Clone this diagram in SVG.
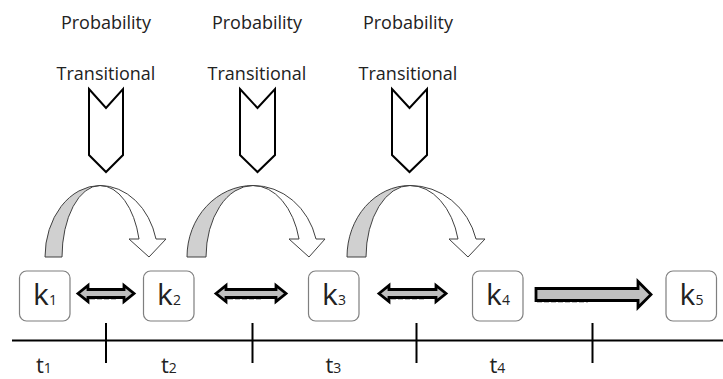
<svg xmlns="http://www.w3.org/2000/svg" width="723" height="379" viewBox="0 0 723 379">
<style>
.lbl{font-family:"Open Sans","Liberation Sans",sans-serif;font-size:18px;fill:#222;text-anchor:middle}
.box{fill:#fff;stroke:#7f7f7f;stroke-width:1.2}
.kt{font-family:"Open Sans","Liberation Sans",sans-serif;font-size:30px;fill:#222;text-anchor:middle}
.tt{font-family:"Open Sans","Liberation Sans",sans-serif;font-size:22px;fill:#222}
.sub{font-size:14px}
.chev{fill:#fff;stroke:#000;stroke-width:2;stroke-linejoin:miter}
.cband{fill:#d0d0d0;stroke:#404040;stroke-width:1}
.cwhite{fill:#fff;stroke:#404040;stroke-width:1}
.blk{fill:#bfbfbf;stroke:#000;stroke-width:2.8;stroke-linejoin:miter}
.dash{fill:none;stroke:#000;stroke-width:1.5;stroke-dasharray:5 2}
.axis{stroke:#000;stroke-width:2;fill:none}
</style>

<g id="labels">
<text class="lbl" x="106" y="29">Probability</text>
<text class="lbl" x="106" y="80">Transitional</text>
<text class="lbl" x="257" y="29">Probability</text>
<text class="lbl" x="257" y="80">Transitional</text>
<text class="lbl" x="408" y="29">Probability</text>
<text class="lbl" x="408" y="80">Transitional</text>
</g>

<g id="chevrons">
<path class="chev" d="M89,89 L106,108 L123,89 L123,155 L106,172 L89,155 Z"/>
<path class="chev" d="M240,89 L257.5,108 L275,89 L275,155 L257.5,172 L240,155 Z"/>
<path class="chev" d="M392,89 L409.5,108 L427,89 L427,155 L409.5,172 L392,155 Z"/>
</g>

<g id="curved-arrows">
<path class="cband" d="M45,257 A55,71.5 0 0 1 100,185.5 A38,71.5 0 0 0 62,257 Z"/>
<path class="cwhite" d="M100,185.5 A57.9,71.5 0 0 1 156,239 L166,239 L149,257 L129,239 L139,239 A40.3,71.5 0 0 0 100,185.5 Z"/>
<path class="cband" d="M187,257 A66,71.5 0 0 1 253,185.5 A47,71.5 0 0 0 206,257 Z"/>
<path class="cwhite" d="M253,185.5 A65,71.5 0 0 1 316,239 L325,239 L309,257 L289,239 L299,239 A47.5,71.5 0 0 0 253,185.5 Z"/>
<path class="cband" d="M347,257 A63,71.5 0 0 1 410,185.5 A44,71.5 0 0 0 366,257 Z"/>
<path class="cwhite" d="M410,185.5 A68,71.5 0 0 1 476,239 L485,239 L468,257 L449,239 L458,239 A49.6,71.5 0 0 0 410,185.5 Z"/>
</g>

<g id="k1"><rect class="box" x="19.5" y="271" width="50.5" height="50" rx="7"/><text class="kt" x="45" y="305">k<tspan class="sub">1</tspan></text></g>
<g id="k2"><rect class="box" x="143.5" y="271" width="50.5" height="50" rx="7"/><text class="kt" x="169" y="305">k<tspan class="sub">2</tspan></text></g>
<g id="k3"><rect class="box" x="308.5" y="271" width="50.5" height="50" rx="7"/><text class="kt" x="334" y="305">k<tspan class="sub">3</tspan></text></g>
<g id="k4"><rect class="box" x="472.5" y="271" width="50.5" height="50" rx="7"/><text class="kt" x="498" y="305">k<tspan class="sub">4</tspan></text></g>
<g id="k5"><rect class="box" x="666" y="271" width="50.5" height="50" rx="7"/><text class="kt" x="691.5" y="305">k<tspan class="sub">5</tspan></text></g>

<g id="connectors">
<path class="blk" d="M78,293.5 L88,285.5 L88,289.5 L124,289.5 L124,285.5 L134,293.5 L124,301.5 L124,297.5 L88,297.5 L88,301.5 Z"/>
<path class="dash" d="M90,298.5 L118,298.5"/>
<path class="blk" d="M216,293.5 L226,285.5 L226,289.5 L276,289.5 L276,285.5 L286,293.5 L276,301.5 L276,297.5 L226,297.5 L226,301.5 Z"/>
<path class="dash" d="M228,298.5 L262,298.5"/>
<path class="blk" d="M379,293.5 L389,285.5 L389,289.5 L436,289.5 L436,285.5 L446,293.5 L436,301.5 L436,297.5 L389,297.5 L389,301.5 Z"/>
<path class="dash" d="M391,298.5 L425,298.5"/>
<path class="blk" d="M536,288.5 L638,288.5 L638,281.5 L651,294.5 L638,307.5 L638,300.5 L536,300.5 Z"/>
<path class="dash" d="M537,301.5 L588,301.5"/>
</g>

<g id="timeline">
<path class="axis" d="M12,340.5 L723,340.5"/>
<path class="axis" d="M106,323 L106,363 M252.5,323 L252.5,363 M416.5,323 L416.5,363 M592.5,323 L592.5,363"/>
<text class="tt" x="36" y="372.5">t<tspan class="sub">1</tspan></text>
<text class="tt" x="161" y="372.5">t<tspan class="sub">2</tspan></text>
<text class="tt" x="325.5" y="372.5">t<tspan class="sub">3</tspan></text>
<text class="tt" x="489.5" y="372.5">t<tspan class="sub">4</tspan></text>
</g>
</svg>
